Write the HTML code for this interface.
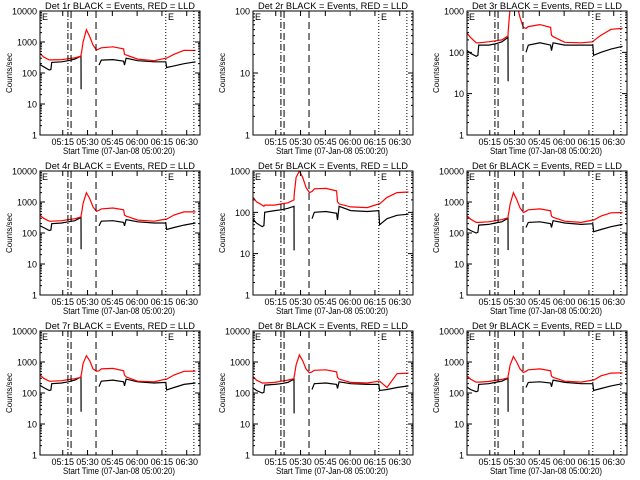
<!DOCTYPE html>
<html><head><meta charset="utf-8"><style>
html,body{margin:0;padding:0;background:#fff;}
svg{display:block;font-family:"Liberation Sans",sans-serif;}
</style></head><body>
<svg id="chart" width="640" height="480" viewBox="0 0 640 480" xmlns="http://www.w3.org/2000/svg"></svg>
<script>
// minutes after 05:00:20
const times = [0,3,6.5,7.5,8,14,18,22,25.7,25.8,26,27,29,31,33,35,36.6,38,45,51.5,52,53,60,70,77,77.5,82,88,95];
const detNames = ["1r","2r","3r","4r","5r","6r","7r","8r","9r"];
const yMaxes = [10000,100,1000,10000,1000,10000,10000,10000,10000];
const xTickLabels = ["05:15","05:30","05:45","06:00","06:15","06:30"];
const xTickMinutes = [14.67,29.67,44.67,59.67,74.67,89.67];
const markerMinutes = {dashdot:17.8, dash1:19.7, dash2:34.8, dot1:77, dot2:94};
const N = null;
const black1 = [200,160,125,130,220,230,250,280,350,30,N,N,N,N,N,N,180,260,270,240,180,300,250,230,230,150,170,200,230];
const red1   = [480,330,265,265,265,270,290,310,350,400,450,1000,2500,1500,800,550,600,650,700,600,400,380,280,250,300,300,400,540,530];
const black2 = [200,160,125,130,220,230,250,280,350,300,N,N,N,N,N,N,180,260,270,240,180,300,250,230,230,150,170,200,230];
const red2   = [480,330,265,265,265,270,290,310,350,400,450,1000,2500,1500,800,550,600,650,700,600,400,380,280,250,300,300,400,540,530];
const black3 = [120,95,80,85,150,150,160,180,230,20,N,N,N,N,N,N,100,150,170,150,110,170,150,150,150,85,100,120,140];
const red3   = [320,230,170,170,170,180,190,200,250,300,400,1200,3000,1500,700,400,380,420,470,400,260,240,175,170,180,190,260,360,380];
const black4 = [180,150,120,125,200,210,230,250,320,30,N,N,N,N,N,N,170,240,250,220,170,270,230,210,210,130,150,180,210];
const red4   = [420,300,240,240,240,250,270,290,330,380,420,900,2000,1300,700,500,540,600,640,560,380,350,260,240,280,280,380,480,480];
const black5 = [75,55,45,48,100,110,115,125,140,12,N,N,N,N,N,N,70,100,105,95,65,140,110,105,110,50,70,85,90];
const red5   = [260,180,150,140,150,150,160,170,200,250,320,700,1000,700,400,300,320,370,380,330,180,160,135,130,160,160,230,300,310];
const black6 = [150,120,100,105,180,190,210,230,300,28,N,N,N,N,N,N,150,220,230,200,150,250,210,190,200,110,130,160,190];
const red6   = [400,280,220,220,220,230,250,270,310,360,400,850,2000,1200,650,460,500,560,600,520,350,320,240,220,260,260,350,450,460];
const black7 = [190,150,120,125,200,210,230,260,330,25,N,N,N,N,N,N,160,240,260,230,170,280,230,210,220,125,150,190,210];
const red7   = [430,300,240,240,240,250,270,290,320,380,420,900,1600,1100,600,500,520,600,620,520,380,330,240,230,280,280,380,500,510];
const black8 = [160,120,100,105,180,190,200,220,280,22,N,N,N,N,N,N,130,200,210,190,140,230,200,190,190,120,130,150,170];
const red8   = [380,260,210,210,210,220,240,260,290,340,380,800,1700,1100,600,450,480,540,560,480,320,280,220,210,240,240,150,420,440];
const black9 = [170,130,110,115,190,200,220,240,300,25,N,N,N,N,N,N,150,220,230,210,160,260,220,200,200,120,140,170,200];
const red9   = [400,280,225,225,225,235,255,275,310,360,400,800,1500,1000,600,460,500,560,600,520,350,320,240,225,260,260,360,440,450];
const blacks = [black1,black2,black3,black4,black5,black6,black7,black8,black9];
const reds = [red1,red2,red3,red4,red5,red6,red7,red8,red9];

const NS = "http://www.w3.org/2000/svg";
const svg = document.getElementById("chart");
function el(tag, parent){ const e=document.createElementNS(NS,tag); parent.appendChild(e); return e; }
const L=40, R=200, T=11, B=135;
function xPix(t){ return 38.5 + 1.653*t; }

const defs = el("defs", svg);
for(let p=0;p<9;p++){
  const col=p%3, row=Math.floor(p/3);
  const ox=Math.round(col*213.33), oy=row*160;
  const ymax=yMaxes[p];
  const dec=Math.log10(ymax);
  const yPix = v => B - (B-T)*Math.log10(v)/dec;
  const g = el("g", svg);
  g.setAttribute("transform","translate("+ox+","+oy+")");
  
  
  const cp = el("clipPath", defs); cp.setAttribute("id","cp"+p);
  const cr = el("rect", cp); cr.setAttribute("x",L); cr.setAttribute("y",T); cr.setAttribute("width",R-L); cr.setAttribute("height",B-T);

  const ti = el("text", g);
  ti.setAttribute("x",45); ti.setAttribute("y",9); ti.setAttribute("font-size","9.5");
  ti.setAttribute("textLength","150"); ti.setAttribute("lengthAdjust","spacingAndGlyphs");
  ti.textContent = "Det "+detNames[p]+" BLACK = Events, RED = LLD";
  
  

  const dg = el("g", g); dg.setAttribute("clip-path","url(#cp"+p+")");
  [[blacks[p],"#000","black-events-line"],[reds[p],"#f00","red-lld-line"]].forEach(s=>{
    let d="", pen=false;
    for(let i=0;i<times.length;i++){
      const v=s[0][i];
      if(v==null){pen=false;continue;}
      d += (pen?"L":"M")+xPix(times[i]).toFixed(1)+" "+yPix(v).toFixed(1)+" ";
      pen=true;
    }
    const pa = el("path", dg);
    pa.setAttribute("d",d); pa.setAttribute("fill","none"); pa.setAttribute("stroke",s[1]); pa.setAttribute("stroke-width","1.2");
    
    
  });

  const mk = [["dashdot","6,2,1,2"],["dash1","7,4"],["dash2","7,4"],["dot1","1,2"],["dot2","1,2"]];
  mk.forEach(m=>{
    const x=xPix(markerMinutes[m[0]]);
    const ln = el("line", g);
    ln.setAttribute("x1",x); ln.setAttribute("x2",x); ln.setAttribute("y1",T); ln.setAttribute("y2",B);
    ln.setAttribute("stroke","#000"); ln.setAttribute("stroke-width","1"); ln.setAttribute("stroke-dasharray",m[1]);
    
    
  });
  ["E","E"].forEach((c,i)=>{
    const e = el("text", g);
    e.setAttribute("x", i?168:42); e.setAttribute("y",20); e.setAttribute("font-size","9");
    e.textContent=c;
    
    
  });

  const fr = el("rect", g);
  fr.setAttribute("x",L); fr.setAttribute("y",T); fr.setAttribute("width",R-L); fr.setAttribute("height",B-T);
  fr.setAttribute("fill","none"); fr.setAttribute("stroke","#000"); fr.setAttribute("stroke-width","1");
  
  

  for(let k=0;k<=dec;k++){
    const v=Math.pow(10,k), y=yPix(v);
    const tk = el("path", g);
    tk.setAttribute("d","M"+L+" "+y+"h5M"+R+" "+y+"h-5");
    tk.setAttribute("stroke","#000");
    
    
    const tl = el("text", g);
    tl.setAttribute("x",37); tl.setAttribute("y",y+3.5); tl.setAttribute("font-size","9"); tl.setAttribute("text-anchor","end");
    tl.textContent=String(v);
    
    
    if(k<dec){ for(let m=2;m<=9;m++){
      const ym=yPix(v*m);
      const mt = el("path", g);
      mt.setAttribute("d","M"+L+" "+ym+"h2M"+R+" "+ym+"h-2");
      mt.setAttribute("stroke","#000");
      
      
    }}
  }
  xTickMinutes.forEach((t,i)=>{
    const x=xPix(t);
    const tk = el("path", g);
    tk.setAttribute("d","M"+x+" "+B+"v-5M"+x+" "+T+"v5");
    tk.setAttribute("stroke","#000");
    
    
    const tl = el("text", g);
    tl.setAttribute("x",x); tl.setAttribute("y",145); tl.setAttribute("font-size","9"); tl.setAttribute("text-anchor","middle");
    tl.textContent=xTickLabels[i];
    
    
  });
  const xt = el("text", g);
  xt.setAttribute("x",63); xt.setAttribute("y",154); xt.setAttribute("font-size","9.5");
  xt.setAttribute("textLength","112"); xt.setAttribute("lengthAdjust","spacingAndGlyphs");
  xt.textContent="Start Time (07-Jan-08 05:00:20)";
  
  
  const yt = el("text", g);
  yt.setAttribute("transform","translate(12,73) rotate(-90)"); yt.setAttribute("font-size","8"); yt.setAttribute("text-anchor","middle");
  yt.textContent="Counts/sec";
  
  
}
</script>
</body></html>
